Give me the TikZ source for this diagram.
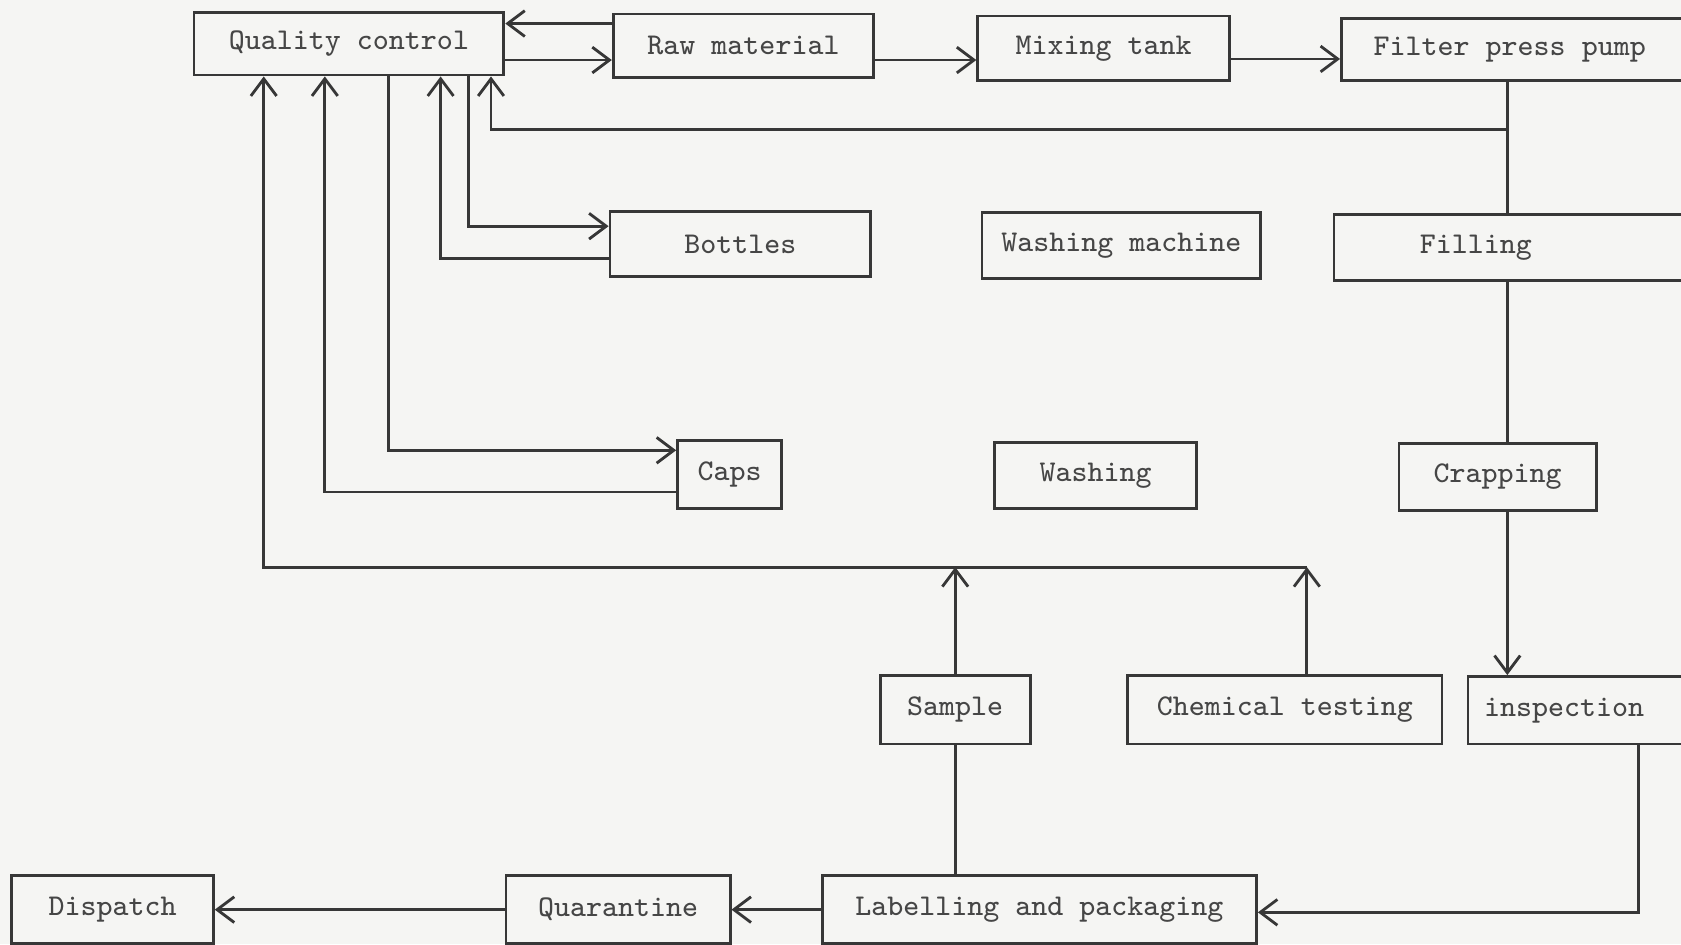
\documentclass[tikz,border=0pt]{standalone}
\usepackage{tikz}
\usetikzlibrary{arrows.meta,positioning}
\definecolor{qcink}{RGB}{55,55,55}
\definecolor{qctext}{RGB}{70,70,70}
\definecolor{qcpaper}{RGB}{245,245,243}
\tikzstyle{arrow} = [->,>={Straight Barb[length=1.6mm,width=2.4mm]}]
\tikzstyle{box} = [draw, inner sep=0pt, minimum height=0.6cm, text=qctext,
  font=\fontsize{8}{10}\selectfont\ttfamily]

\begin{document}
\begin{tikzpicture}[line width=0.75pt, color=qcink]
\useasboundingbox (0,0) rectangle (15.68,-8.81);
\fill[qcpaper] (0,0) rectangle (15.68,-8.81);

% Top row
\node[box, minimum width=2.89cm, minimum height=0.58cm] (qc) at (3.255,-0.41) {Quality control};
\node[box, minimum width=2.43cm, minimum height=0.59cm] (raw) at (6.935,-0.425) {Raw material};
\node[box, minimum width=2.35cm] (mix) at (10.295,-0.45) {Mixing tank};
\node[box, anchor=west, minimum height=0.58cm, inner xsep=0.3cm] (fpp) at (12.50,-0.46) {\makebox[2.8cm][l]{Filter press pump}};

% Second row
\node[box, minimum width=2.43cm, minimum height=0.61cm] (bottles) at (6.905,-2.275) {Bottles};
\node[box, minimum width=2.60cm, minimum height=0.62cm] (washm) at (10.46,-2.29) {Washing machine};
\node[box, anchor=west, minimum height=0.62cm, inner xsep=0.8cm] (filling) at (12.43,-2.31) {\makebox[1.9cm][l]{Filling}};

% Third row
\node[box, minimum width=0.97cm, minimum height=0.63cm] (caps) at (6.805,-4.425) {Caps};
\node[box, minimum width=1.88cm, minimum height=0.61cm] (washing) at (10.22,-4.435) {Washing};
\node[box, minimum width=1.84cm, minimum height=0.62cm] (crapping) at (13.97,-4.45) {Crapping};

% Testing row
\node[box, minimum width=1.40cm, minimum height=0.64cm] (sample) at (8.91,-6.62) {Sample};
\node[box, minimum width=2.93cm, minimum height=0.64cm] (chem) at (11.985,-6.62) {Chemical testing};
\node[box, anchor=west, minimum height=0.63cm, inner xsep=0.15cm] (insp) at (13.68,-6.625) {\makebox[2.0cm][l]{inspection}};

% Bottom row
\node[box, minimum width=4.05cm, minimum height=0.63cm] (label) at (9.695,-8.485) {Labelling and packaging};
\node[box, minimum width=2.09cm, minimum height=0.63cm] (quar) at (5.765,-8.485) {Quarantine};
\node[box, minimum width=1.88cm, minimum height=0.63cm] (disp) at (1.05,-8.485) {Dispatch};

% Helper points
\coordinate (rq) at (5.72,-0.22);
\coordinate (qr) at (4.70,-0.56);
\coordinate (trunk) at (14.06,-1.21);
\coordinate (bus) at (12.19,-5.29);
\coordinate (ret) at (15.28,-8.51);

% Main line
\draw[arrow] (rq) -- (rq -| qc.east);
\draw[arrow] (qr) -- (qr -| raw.west);
\draw[arrow] (raw.east |- qr) -- (mix.west |- qr);
\draw[arrow] ([yshift=-1mm]mix.east) -- ([yshift=-1mm]mix.east -| fpp.west);
\draw (trunk |- fpp.south) -- (trunk |- filling.north);
\draw (trunk |- filling.south) -- (trunk |- crapping.north);
\draw[arrow] (trunk |- crapping.south) -- (trunk |- insp.north);
\draw[arrow] (insp.south -| ret) -- (ret) -- (ret -| label.east);
\draw[arrow] (label.west) -- (quar.east);
\draw[arrow] (quar.west) -- (disp.east);

% Quality control loops
\draw[arrow] (trunk) -| ([xshift=13.25mm]qc.south);
\draw[arrow] ([xshift=11.15mm]qc.south) |- ([yshift=1.65mm]bottles.west);
\draw[arrow] ([yshift=-1.35mm]bottles.west) -| ([xshift=8.55mm]qc.south);
\draw[arrow] ([xshift=3.65mm]qc.south) |- ([yshift=2.25mm]caps.west);
\draw[arrow] ([yshift=-1.65mm]caps.west) -| ([xshift=-2.25mm]qc.south);

% Sampling and testing
\draw[arrow] (chem.north -| bus) -- (bus);
\draw[arrow] (bus) -| ([xshift=-7.95mm]qc.south);
\draw[arrow] (sample.north) -- (sample.north |- bus);
\draw (sample.south) -- (sample.south |- label.north);
\end{tikzpicture}
\end{document}
